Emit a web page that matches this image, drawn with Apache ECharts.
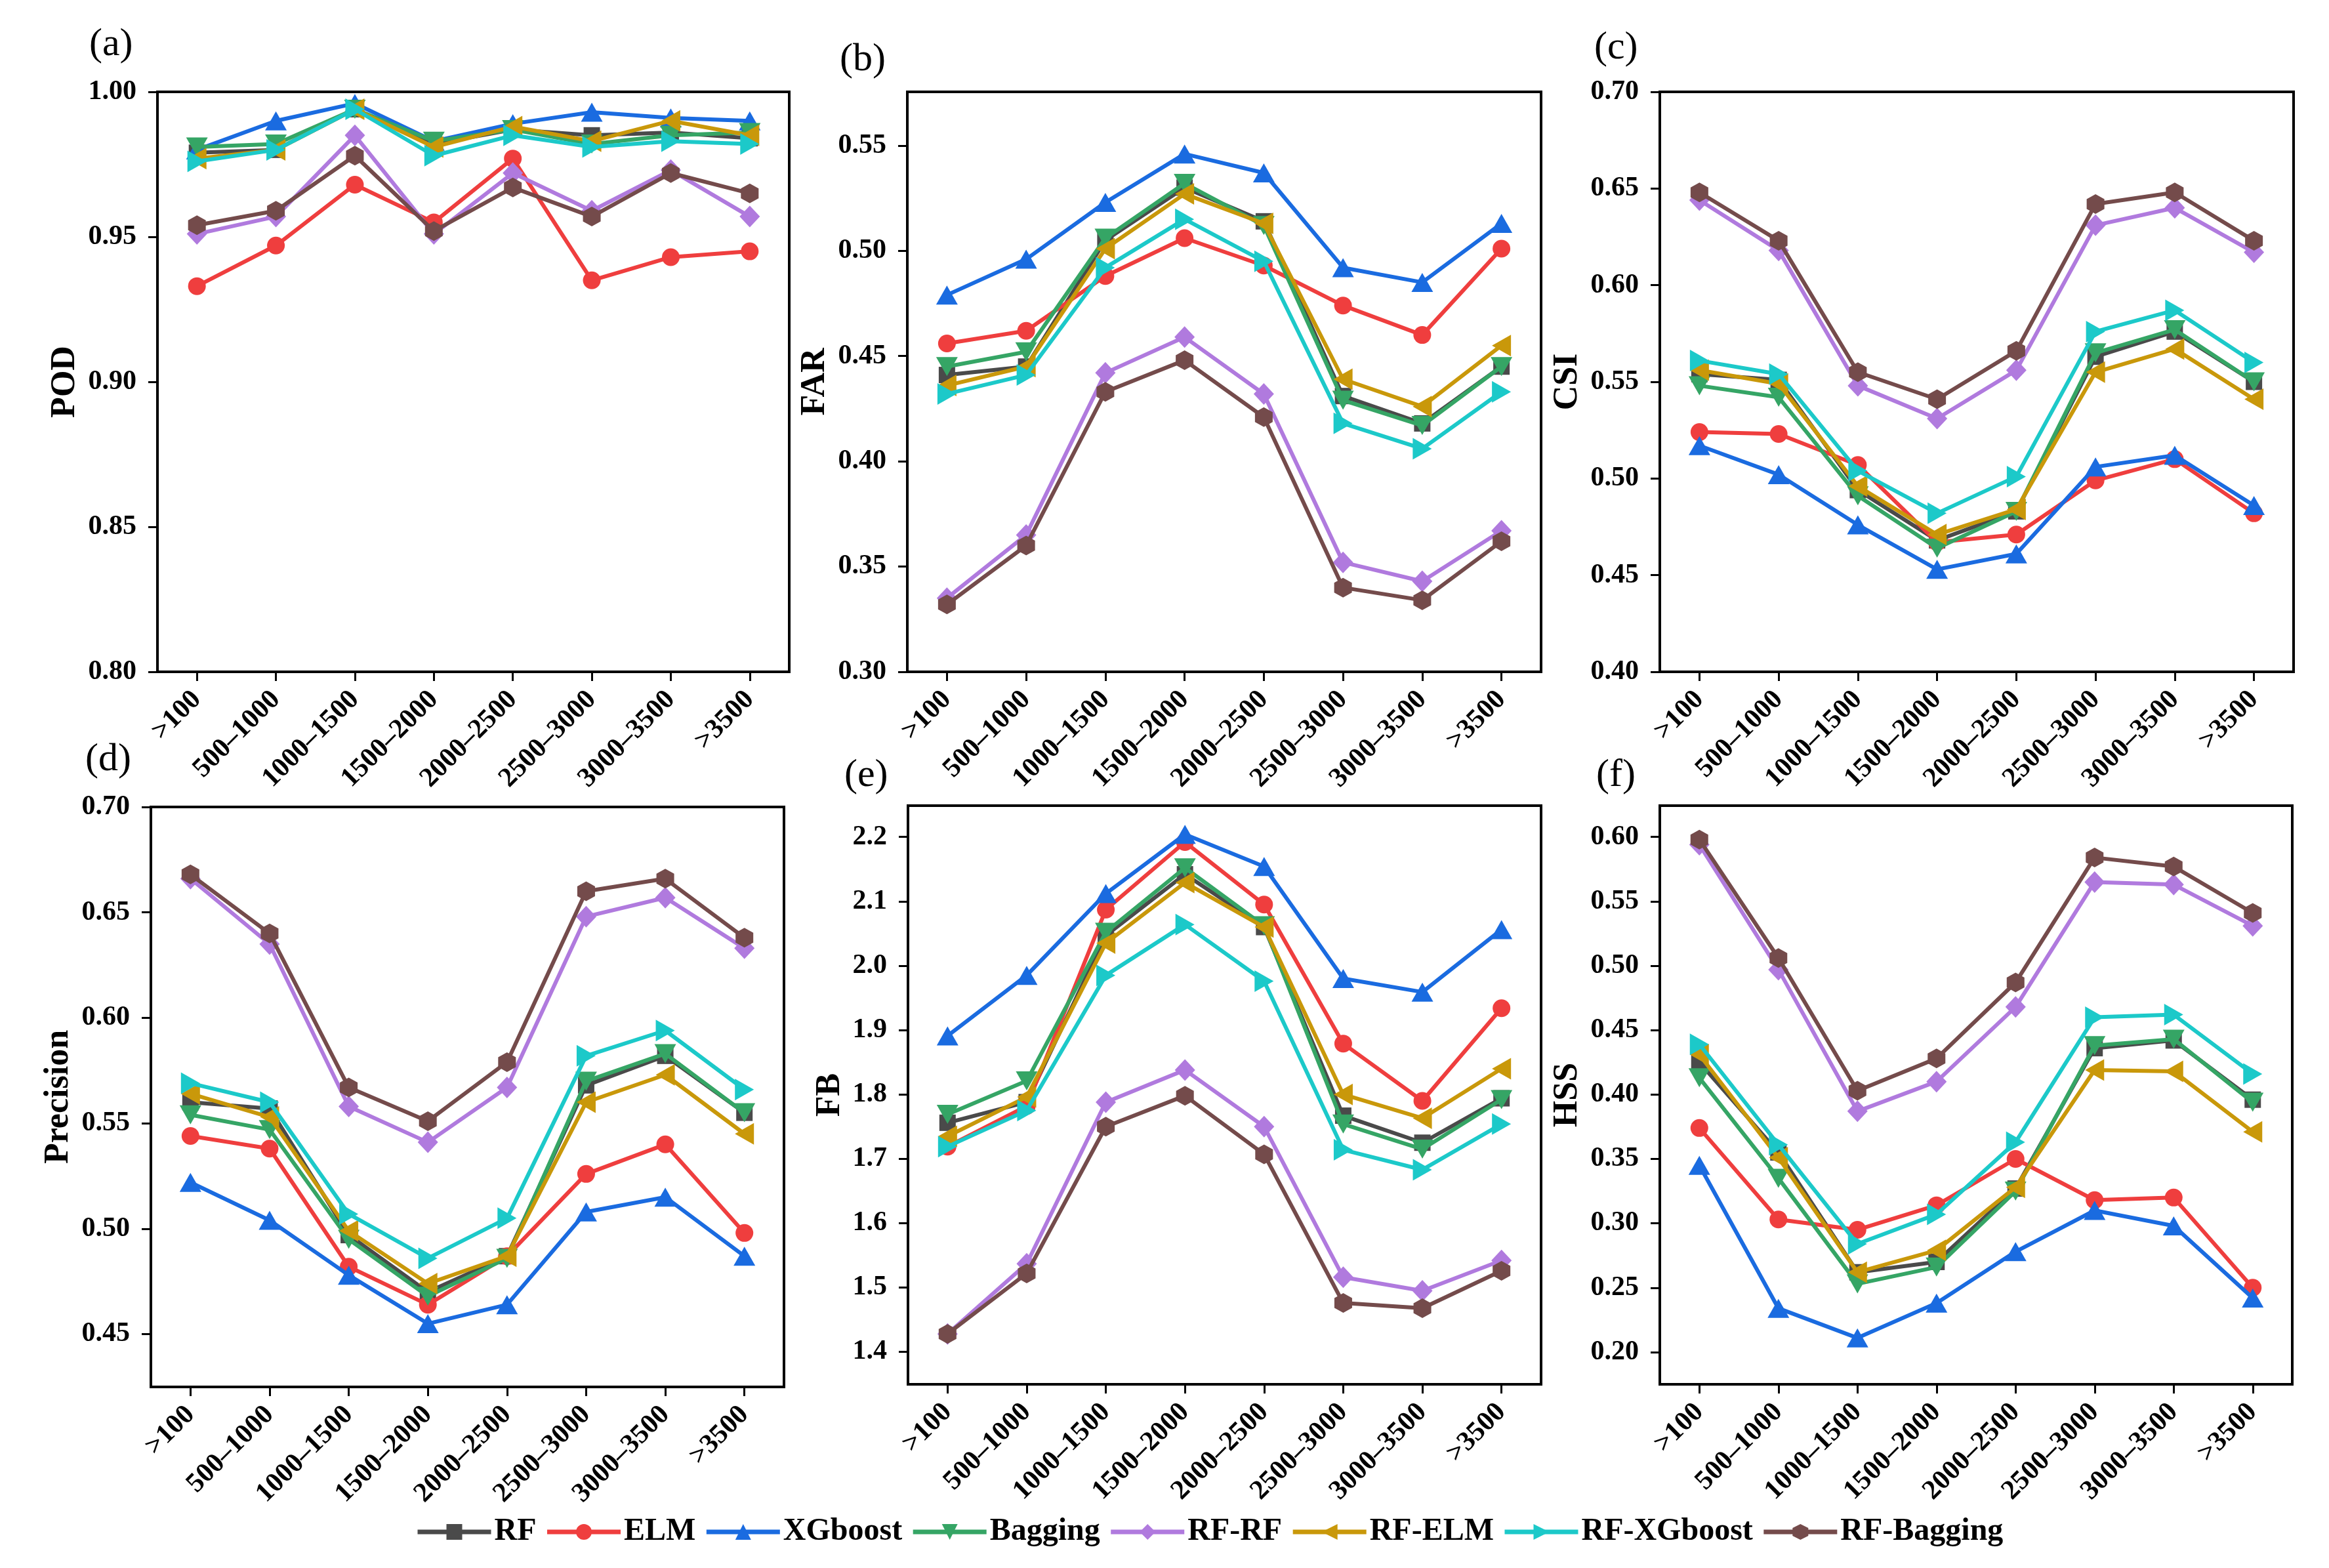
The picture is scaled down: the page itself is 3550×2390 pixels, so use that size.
<!DOCTYPE html>
<html>
<head>
<meta charset="utf-8">
<script src="https://cdn.jsdelivr.net/npm/echarts@6/dist/echarts.min.js"></script>
<style>
html,body{margin:0;padding:0;background:#fff;}
#c{width:3550px;height:2390px;}
</style>
</head>
<body>
<div id="c"></div>
<script>
// ---------- data ----------
const categories = ['>100', '500\u20131000', '1000\u20131500', '1500\u20132000', '2000\u20132500', '2500\u20133000', '3000\u20133500', '>3500'];
const models = ['RF', 'ELM', 'XGboost', 'Bagging', 'RF-RF', 'RF-ELM', 'RF-XGboost', 'RF-Bagging'];

// rows follow the order of `models`
const POD = [
  [0.979, 0.980, 0.994, 0.982, 0.987, 0.985, 0.986, 0.984],
  [0.933, 0.947, 0.968, 0.955, 0.977, 0.935, 0.943, 0.945],
  [0.980, 0.990, 0.996, 0.983, 0.989, 0.993, 0.991, 0.990],
  [0.981, 0.982, 0.994, 0.983, 0.987, 0.982, 0.985, 0.986],
  [0.951, 0.957, 0.985, 0.951, 0.972, 0.959, 0.973, 0.957],
  [0.977, 0.980, 0.994, 0.981, 0.988, 0.983, 0.990, 0.985],
  [0.976, 0.980, 0.994, 0.978, 0.985, 0.981, 0.983, 0.982],
  [0.954, 0.959, 0.978, 0.952, 0.967, 0.957, 0.972, 0.965]
];
const FAR = [
  [0.441, 0.445, 0.505, 0.530, 0.514, 0.431, 0.418, 0.445],
  [0.456, 0.462, 0.488, 0.506, 0.493, 0.474, 0.460, 0.501],
  [0.479, 0.496, 0.523, 0.546, 0.537, 0.492, 0.485, 0.513],
  [0.445, 0.452, 0.506, 0.532, 0.512, 0.429, 0.417, 0.445],
  [0.335, 0.365, 0.442, 0.459, 0.432, 0.352, 0.343, 0.367],
  [0.436, 0.445, 0.501, 0.527, 0.513, 0.439, 0.426, 0.455],
  [0.432, 0.441, 0.492, 0.515, 0.495, 0.418, 0.406, 0.433],
  [0.332, 0.360, 0.433, 0.448, 0.421, 0.340, 0.334, 0.362]
];
const CSI = [
  [0.554, 0.551, 0.494, 0.468, 0.483, 0.563, 0.576, 0.550],
  [0.524, 0.523, 0.507, 0.467, 0.471, 0.499, 0.510, 0.482],
  [0.517, 0.502, 0.476, 0.453, 0.461, 0.506, 0.512, 0.486],
  [0.548, 0.542, 0.491, 0.464, 0.483, 0.565, 0.577, 0.550],
  [0.644, 0.618, 0.548, 0.531, 0.556, 0.631, 0.640, 0.617],
  [0.556, 0.549, 0.496, 0.471, 0.484, 0.555, 0.567, 0.541],
  [0.561, 0.554, 0.504, 0.482, 0.501, 0.576, 0.587, 0.560],
  [0.648, 0.623, 0.555, 0.541, 0.566, 0.642, 0.648, 0.623]
];
const PRECISION = [
  [0.560, 0.557, 0.497, 0.470, 0.487, 0.568, 0.582, 0.555],
  [0.544, 0.538, 0.482, 0.464, 0.487, 0.526, 0.540, 0.498],
  [0.522, 0.504, 0.478, 0.455, 0.464, 0.508, 0.515, 0.487],
  [0.554, 0.547, 0.495, 0.468, 0.486, 0.570, 0.583, 0.555],
  [0.666, 0.635, 0.558, 0.541, 0.567, 0.648, 0.657, 0.633],
  [0.564, 0.553, 0.499, 0.474, 0.487, 0.560, 0.573, 0.545],
  [0.569, 0.560, 0.507, 0.486, 0.505, 0.582, 0.594, 0.566],
  [0.668, 0.640, 0.567, 0.551, 0.579, 0.660, 0.666, 0.638]
];
const FB = [
  [1.756, 1.788, 2.047, 2.142, 2.060, 1.767, 1.725, 1.794],
  [1.719, 1.782, 2.087, 2.192, 2.095, 1.879, 1.790, 1.934],
  [1.891, 1.985, 2.112, 2.204, 2.154, 1.980, 1.959, 2.056],
  [1.769, 1.821, 2.052, 2.152, 2.062, 1.754, 1.715, 1.792],
  [1.428, 1.537, 1.788, 1.838, 1.750, 1.516, 1.495, 1.542],
  [1.735, 1.796, 2.035, 2.129, 2.060, 1.800, 1.763, 1.840],
  [1.719, 1.775, 1.985, 2.064, 1.976, 1.714, 1.683, 1.754],
  [1.428, 1.522, 1.750, 1.798, 1.707, 1.476, 1.468, 1.526]
];
const HSS = [
  [0.425, 0.355, 0.262, 0.270, 0.327, 0.436, 0.442, 0.396],
  [0.374, 0.303, 0.295, 0.314, 0.350, 0.318, 0.320, 0.250],
  [0.345, 0.234, 0.211, 0.238, 0.278, 0.310, 0.298, 0.242],
  [0.413, 0.335, 0.253, 0.266, 0.325, 0.438, 0.443, 0.394],
  [0.594, 0.497, 0.387, 0.410, 0.468, 0.565, 0.563, 0.531],
  [0.431, 0.351, 0.262, 0.279, 0.328, 0.419, 0.418, 0.371],
  [0.439, 0.361, 0.284, 0.307, 0.363, 0.460, 0.462, 0.416],
  [0.598, 0.506, 0.403, 0.428, 0.487, 0.584, 0.577, 0.541]
];

const TICKS_POD = [0.80, 0.85, 0.90, 0.95, 1.00];
const TICKS_FAR = [0.30, 0.35, 0.40, 0.45, 0.50, 0.55];
const TICKS_CSI = [0.40, 0.45, 0.50, 0.55, 0.60, 0.65, 0.70];
const TICKS_PRECISION = [0.45, 0.50, 0.55, 0.60, 0.65, 0.70];
const TICKS_FB = [1.4, 1.5, 1.6, 1.7, 1.8, 1.9, 2.0, 2.1, 2.2];
const TICKS_HSS = [0.20, 0.25, 0.30, 0.35, 0.40, 0.45, 0.50, 0.55, 0.60];

// ---------- styling ----------
const FONT = '"Liberation Serif", "Times New Roman", serif';
const colors = ['#4a4a4a', '#ef3e3e', '#1a6be0', '#35a565', '#b07ade', '#c9980a', '#1cc9c9', '#744b4b'];
const symbols = [
  'rect',
  'circle',
  'path://M1,0 L2,2 L0,2 Z',
  'path://M0,0 L2,0 L1,2 Z',
  'diamond',
  'path://M2,0 L2,2 L0,1 Z',
  'path://M0,0 L2,1 L0,2 Z',
  'path://M1,0 L1.866,0.5 L1.866,1.5 L1,2 L0.134,1.5 L0.134,0.5 Z'
];
const symbolSizes = [25, 27, [33, 29], [33, 29], [31, 33], [29, 33], [29, 33], [27, 30]];

const panels = [
  {label: '(a)', lx: 136, ly: 72,  name: 'POD',       data: POD,       ticks: TICKS_POD,       min: 0.80,  max: 1.00,  dec: 2, gap: 114, grid: {left: 240,  top: 140,  width: 963, height: 884}},
  {label: '(b)', lx: 1280, ly: 95, name: 'FAR',       data: FAR,       ticks: TICKS_FAR,       min: 0.30,  max: 0.5755, dec: 2, gap: 114, grid: {left: 1383, top: 140,  width: 966, height: 884}},
  {label: '(c)', lx: 2430, ly: 77, name: 'CSI',       data: CSI,       ticks: TICKS_CSI,       min: 0.40,  max: 0.70,  dec: 2, gap: 114, grid: {left: 2530, top: 140,  width: 966, height: 884}},
  {label: '(d)', lx: 130, ly: 1162, name: 'Precision', data: PRECISION, ticks: TICKS_PRECISION, min: 0.425, max: 0.70,  dec: 2, gap: 114, grid: {left: 230,  top: 1230, width: 965, height: 884}},
  {label: '(e)', lx: 1287, ly: 1186, name: 'FB',      data: FB,        ticks: TICKS_FB,        min: 1.3497, max: 2.2486, dec: 1, gap: 92, grid: {left: 1384, top: 1228, width: 965, height: 882}},
  {label: '(f)', lx: 2433, ly: 1186, name: 'HSS',     data: HSS,       ticks: TICKS_HSS,       min: 0.175, max: 0.6243, dec: 2, gap: 114, grid: {left: 2530, top: 1228, width: 964, height: 882}}
];

const grids = [], xAxes = [], yAxes = [], series = [], graphics = [];
panels.forEach((p, i) => {
  grids.push(Object.assign({show: true, borderColor: '#000', borderWidth: 4, backgroundColor: 'transparent', containLabel: false, outerBoundsMode: 'none'}, p.grid));
  xAxes.push({
    type: 'category', gridIndex: i, data: categories, boundaryGap: true,
    axisLine: {show: true, lineStyle: {color: '#000', width: 4}},
    axisTick: {show: true, alignWithLabel: true, interval: 0, length: 14, lineStyle: {color: '#000', width: 3}},
    axisLabel: {interval: 0, rotate: 45, margin: 36, color: '#000', fontFamily: FONT, fontWeight: 'bold', fontSize: 42},
    splitLine: {show: false}
  });
  yAxes.push({
    type: 'value', gridIndex: i, min: p.min, max: p.max,
    name: p.name, nameLocation: 'middle', nameGap: p.gap,
    nameTextStyle: {color: '#000', fontFamily: FONT, fontWeight: 'bold', fontSize: 52},
    axisLine: {show: true, lineStyle: {color: '#000', width: 4}},
    axisTick: {show: true, length: 14, lineStyle: {color: '#000', width: 3}, customValues: p.ticks},
    axisLabel: {margin: 32, color: '#000', fontFamily: FONT, fontWeight: 'bold', fontSize: 42, customValues: p.ticks,
      formatter: v => Number(v).toFixed(p.dec)},
    splitLine: {show: false}
  });
  models.forEach((m, k) => {
    series.push({
      type: 'line', name: m, xAxisIndex: i, yAxisIndex: i,
      data: p.data[k],
      symbol: symbols[k], symbolSize: symbolSizes[k], showSymbol: true,
      lineStyle: {color: colors[k], width: 6},
      itemStyle: {color: colors[k]},
      z: 2 + k,
      animation: false
    });
  });
  graphics.push({
    type: 'text', left: p.lx, top: p.ly - 34,
    style: {text: p.label, fontFamily: FONT, fontSize: 60, fill: '#000'}
  });
});

const chart = echarts.init(document.getElementById('c'), null, {width: 3550, height: 2390, renderer: 'canvas'});
chart.setOption({
  backgroundColor: '#fff',
  animation: false,
  grid: grids,
  xAxis: xAxes,
  yAxis: yAxes,
  series: series,
  graphic: graphics,
  legend: {
    data: models, left: 628, top: 2306, orient: 'horizontal',
    itemWidth: 112, itemHeight: 30, itemGap: 13,
    lineStyle: {width: 7},
    textStyle: {color: '#000', fontFamily: FONT, fontWeight: 'bold', fontSize: 48}
  }
});
</script>
</body>
</html>
